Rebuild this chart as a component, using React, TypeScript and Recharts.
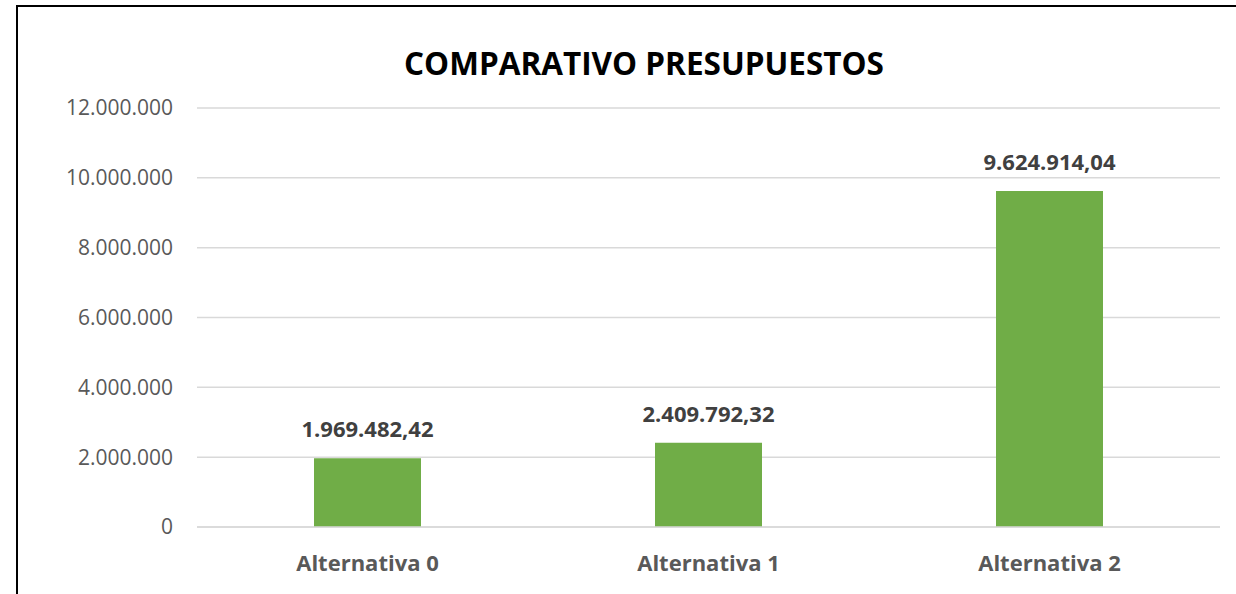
import React from "react";
import {
  BarChart,
  Bar,
  XAxis,
  YAxis,
  CartesianGrid,
  LabelList,
} from "recharts";

const categories = ["Alternativa 0", "Alternativa 1", "Alternativa 2"];
const budgets = [1969482.42, 2409792.32, 9624914.04];
const yTicks = [0, 2000000, 4000000, 6000000, 8000000, 10000000, 12000000];

const FONT = "'Open Sans', sans-serif";

const thousands = (n: number) =>
  Math.round(n)
    .toString()
    .replace(/\B(?=(\d{3})+(?!\d))/g, ".");

const money = (n: number) => {
  const [int, dec] = n.toFixed(2).split(".");
  return thousands(Number(int)) + "," + dec;
};

const data = categories.map((name, i) => ({ name, value: budgets[i] }));

const App = () => {
  return (
    <div
      style={{
        position: "absolute",
        left: 0,
        top: 0,
        width: 1236,
        height: 594,
        background: "#fff",
        overflow: "hidden",
        fontFamily: FONT,
      }}
    >
      <div
        style={{
          position: "absolute",
          left: 16,
          top: 5,
          width: 1300,
          height: 700,
          borderLeft: "2px solid #000",
          borderTop: "2px solid #000",
        }}
      />
      <div
        style={{
          position: "absolute",
          left: 344,
          width: 600,
          top: 43,
          textAlign: "center",
          fontSize: 31.5,
          fontWeight: 700,
          color: "#000",
          lineHeight: "40px",
        }}
      >
        COMPARATIVO PRESUPUESTOS
      </div>
      <BarChart
        width={1236}
        height={594}
        data={data}
        margin={{ top: 108, right: 16, bottom: 37, left: 0 }}
        style={{ position: "absolute", left: 0, top: 0 }}
      >
        <CartesianGrid vertical={false} stroke="#d9d9d9" strokeWidth={1.5} />
        <XAxis
          dataKey="name"
          height={30}
          axisLine={{ stroke: "#d9d9d9", strokeWidth: 1.5 }}
          tickLine={false}
          tickSize={0}
          tickMargin={28}
          tick={{
            fill: "#595959",
            fontSize: 22,
            fontWeight: 700,
            fontFamily: FONT,
          }}
        />
        <YAxis
          width={197}
          domain={[0, 12000000]}
          ticks={yTicks}
          axisLine={false}
          tickLine={false}
          tickSize={0}
          tickMargin={24}
          tickFormatter={thousands}
          tick={{ fill: "#595959", fontSize: 21, fontFamily: FONT }}
        />
        <Bar
          dataKey="value"
          fill="#70AD47"
          barSize={107}
          isAnimationActive={false}
        >
          <LabelList
            dataKey="value"
            position="top"
            offset={21}
            formatter={(v: any) => money(Number(v))}
            style={{
              fill: "#404040",
              fontSize: 22,
              fontWeight: 700,
              fontFamily: FONT,
            }}
          />
        </Bar>
      </BarChart>
    </div>
  );
};

export default App;
